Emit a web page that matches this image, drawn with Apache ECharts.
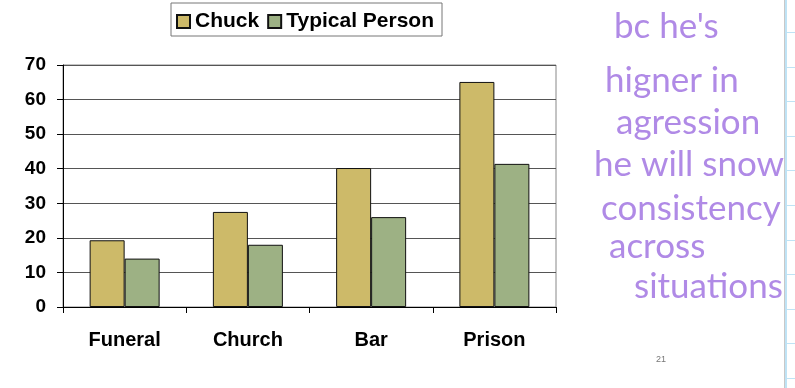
<!DOCTYPE html>
<html>
<head>
<meta charset="utf-8">
<script src="https://cdn.jsdelivr.net/npm/echarts@6/dist/echarts.min.js"></script>
<style>
html,body{margin:0;padding:0;background:#fff;}
#chart{width:795px;height:388px;}
</style>
</head>
<body>
<div id="chart"></div>
<script>
const categories = ['Funeral', 'Church', 'Bar', 'Prison'];
const chuckValues = [19.3, 27.5, 40.2, 65.1];
const typicalValues = [14.0, 18.0, 26.0, 41.4];
const seriesNames = ['Chuck', 'Typical Person'];
const yTicks = { min: 0, max: 70, interval: 10 };
const noteLines = ["bc he's", 'higner in', 'agression', 'he will snow', 'consistency', 'across', 'situations'];
const slideNumber = '21';

const chart = echarts.init(document.getElementById('chart'));
const font = 'Liberation Sans, Arial, sans-serif';

const noteX = [614, 605, 616, 594, 601, 609, 634];
const noteY = [31, 85, 127, 169, 213, 251, 291];
const graphics = [];
noteLines.forEach((t, i) => {
  graphics.push({
    type: 'text', left: noteX[i], top: noteY[i] - 22,
    style: { text: t, font: '400 35px Lato, "Open Sans", sans-serif', fill: '#B08AE6' }
  });
});
graphics.push({ type: 'text', left: 656, top: 355, style: { text: slideNumber, font: '9px ' + font, fill: '#777' } });
graphics.push({ type: 'line', shape: { x1: 784.5, y1: 0, x2: 784.5, y2: 388 }, style: { stroke: '#C8C8C8', lineWidth: 1 } });
graphics.push({ type: 'line', shape: { x1: 786, y1: 0, x2: 786, y2: 388 }, style: { stroke: '#BFE3F5', lineWidth: 2 } });
for (let y = 32; y < 388; y += 34.6) {
  graphics.push({ type: 'line', shape: { x1: 786, y1: Math.round(y) + 0.5, x2: 795, y2: Math.round(y) + 0.5 }, style: { stroke: '#BFE3F5', lineWidth: 1 } });
}

chart.setOption({
  animation: false,
  backgroundColor: '#fff',
  textStyle: { fontFamily: font },
  legend: {
    top: 3, left: 171,
    padding: [8, 8, 4, 5],
    borderColor: '#777', borderWidth: 1,
    itemWidth: 13, itemHeight: 13, itemGap: 8,
    icon: 'rect',
    textStyle: { fontSize: 21, fontWeight: 'bold', color: '#000', fontFamily: font, padding: [0, 0, 0, 0] },
    data: seriesNames
  },
  grid: { left: 63, top: 65, right: 239, bottom: 81, show: true, borderColor: '#888', borderWidth: 1 },
  xAxis: {
    type: 'category', data: categories,
    axisLine: { lineStyle: { color: '#000', width: 1 } },
    axisTick: { show: true, length: 6, lineStyle: { color: '#000' } },
    axisLabel: { fontSize: 20, fontWeight: 'bold', color: '#000', margin: 23, fontFamily: font }
  },
  yAxis: {
    type: 'value', min: yTicks.min, max: yTicks.max, interval: yTicks.interval,
    axisLine: { show: true, lineStyle: { color: '#000', width: 1 } },
    axisTick: { show: true, length: 6, lineStyle: { color: '#000' } },
    axisLabel: { fontSize: 19, fontWeight: 'bold', color: '#000', margin: 17, fontFamily: font },
    splitLine: { lineStyle: { color: '#555', width: 1 } }
  },
  series: [
    { name: seriesNames[0], type: 'bar', data: chuckValues, barWidth: 35, barGap: '0%',
      itemStyle: { color: '#CDBA69', borderColor: '#111', borderWidth: 1 } },
    { name: seriesNames[1], type: 'bar', data: typicalValues, barWidth: 35,
      itemStyle: { color: '#9DB184', borderColor: '#111', borderWidth: 1 } }
  ],
  graphic: graphics
});
</script>
</body>
</html>
